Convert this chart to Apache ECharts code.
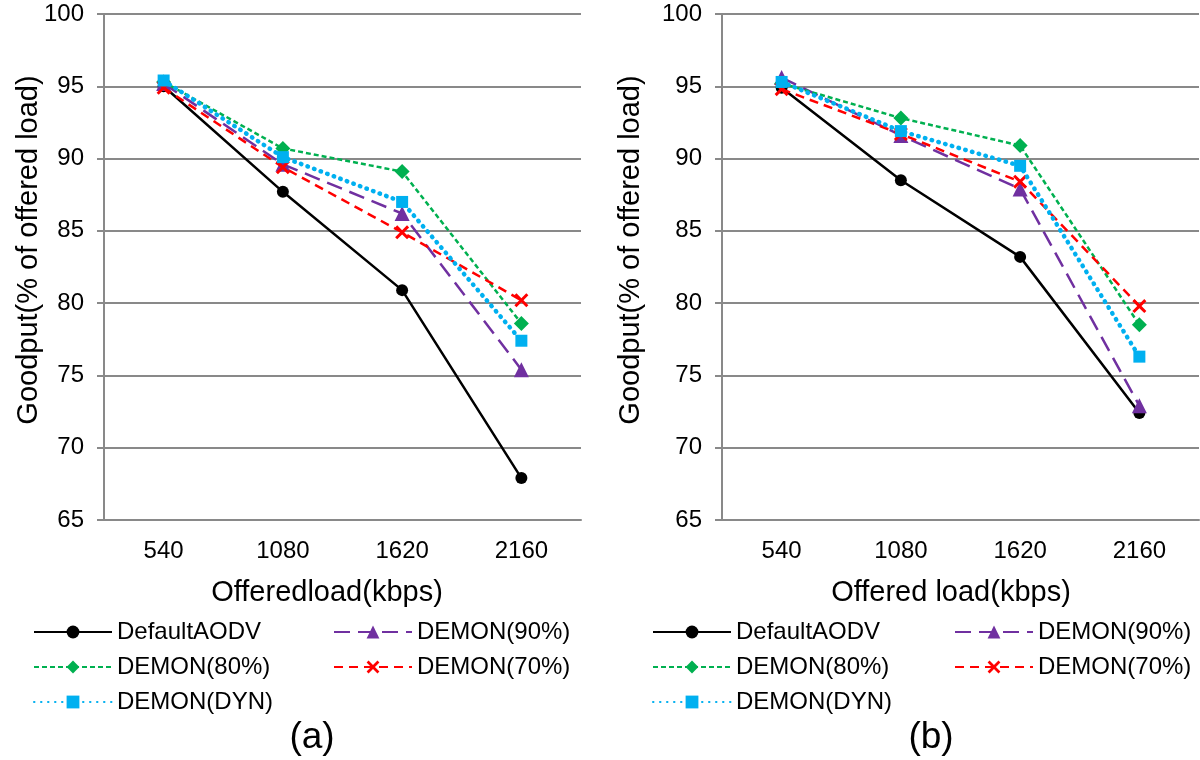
<!DOCTYPE html>
<html>
<head>
<meta charset="utf-8">
<script src="https://cdn.jsdelivr.net/npm/echarts@6/dist/echarts.min.js"></script>
<style>
html,body{margin:0;padding:0;background:#fff;}
#chart{width:1200px;height:760px;}
</style>
</head>
<body>
<div id="chart"></div>
<script>
// ---- data ----
const categories = ['540', '1080', '1620', '2160'];
const seriesNames = ['DefaultAODV', 'DEMON(90%)', 'DEMON(80%)', 'DEMON(70%)', 'DEMON(DYN)'];
// panel (a)
const aDefault = [95.0, 87.7, 80.9, 67.9];
const aDemon90 = [95.2, 89.6, 86.2, 75.4];
const aDemon80 = [95.3, 90.7, 89.1, 78.6];
const aDemon70 = [94.9, 89.4, 84.9, 80.2];
const aDemonDyn = [95.4, 90.1, 87.0, 77.4];
// panel (b)
const bDefault = [94.9, 88.5, 83.2, 72.4];
const bDemon90 = [95.6, 91.6, 87.9, 72.9];
const bDemon80 = [95.2, 92.8, 90.9, 78.5];
const bDemon70 = [94.8, 91.7, 88.4, 79.8];
const bDemonDyn = [95.3, 91.9, 89.5, 76.3];
const yMin = 65, yMax = 100, yStep = 5;
const xTitles = ['Offeredload(kbps)', 'Offered load(kbps)'];
const yTitle = 'Goodput(% of offered load)';
const panelLabels = ['(a)', '(b)'];

const panelData = [
  [aDefault, aDemon90, aDemon80, aDemon70, aDemonDyn],
  [bDefault, bDemon90, bDemon80, bDemon70, bDemonDyn]
];

// ---- styles ----
const FONT = '"Liberation Sans", Arial, Helvetica, sans-serif';
const GRAY = '#898989';
const xPath = 'path://M0,1.5L1.5,0L5,3.5L8.5,0L10,1.5L6.5,5L10,8.5L8.5,10L5,6.5L1.5,10L0,8.5L3.5,5Z';
const styles = {
  'DefaultAODV': {color: '#000000', type: 'solid', width: 2.5, symbol: 'circle', size: 12, cap: 'butt'},
  'DEMON(90%)': {color: '#7030A0', type: [16, 8], width: 2.5, symbol: 'triangle', size: 15, cap: 'butt'},
  'DEMON(80%)': {color: '#00B050', type: [5, 3], width: 2.5, symbol: 'diamond', size: 15, cap: 'butt'},
  'DEMON(70%)': {color: '#FF0000', type: [9, 6], width: 2.5, symbol: xPath, size: 14, cap: 'butt'},
  'DEMON(DYN)': {color: '#00B0F0', type: [0.5, 6.5], width: 4.5, symbol: 'rect', size: 12, cap: 'round'}
};

const grids = [
  {left: 104, top: 14, width: 477, height: 506},
  {left: 722, top: 14, width: 477, height: 506}
];

const xAxes = grids.map((g, i) => ({
  type: 'category', gridIndex: i, data: categories, boundaryGap: true,
  axisLine: {lineStyle: {color: GRAY, width: 2}},
  axisTick: {alignWithLabel: true, length: 6, lineStyle: {color: GRAY, width: 2}},
  axisLabel: {color: '#000', fontSize: 24, fontFamily: FONT, margin: 19},
  splitLine: {show: false}
}));
const yAxes = grids.map((g, i) => ({
  type: 'value', gridIndex: i, min: yMin, max: yMax, interval: yStep,
  axisLine: {show: true, lineStyle: {color: GRAY, width: 2}},
  axisTick: {show: true, length: 7, lineStyle: {color: GRAY, width: 2}},
  axisLabel: {color: '#000', fontSize: 24, fontFamily: FONT, margin: 20},
  splitLine: {show: true, lineStyle: {color: GRAY, width: 2}}
}));

const series = [];
panelData.forEach((arrs, p) => {
  seriesNames.forEach((name, k) => {
    const s = styles[name];
    series.push({
      name: name, type: 'line', xAxisIndex: p, yAxisIndex: p,
      data: arrs[k],
      symbol: s.symbol, symbolSize: s.size,
      lineStyle: {color: s.color, width: s.width, type: s.type, cap: s.cap},
      itemStyle: {color: s.color, borderWidth: 0},
      animation: false, z: 2 + k
    });
  });
});

function legendAt(left, names) {
  return {
    left: left, top: 620, orient: 'vertical', data: names,
    selectedMode: false, itemWidth: 78, itemHeight: 16, itemGap: 11, itemTextGap: 10,
    textStyle: {color: '#000', fontSize: 24, fontFamily: FONT, lineHeight: 24},
    padding: 0
  };
}
const col1 = ['DefaultAODV', 'DEMON(80%)', 'DEMON(DYN)'];
const col2 = ['DEMON(90%)', 'DEMON(70%)'];

function txt(x, y, text, size, rot) {
  return {
    type: 'text', x: x, y: y, rotation: rot || 0,
    style: {text: text, font: size + 'px ' + FONT, fill: '#000',
      textAlign: 'center', textVerticalAlign: 'middle', align: 'center', verticalAlign: 'middle'}
  };
}

const chart = echarts.init(document.getElementById('chart'), null, {renderer: 'canvas'});
chart.setOption({
  backgroundColor: '#ffffff',
  animation: false,
  grid: grids,
  xAxis: xAxes,
  yAxis: yAxes,
  legend: [legendAt(33, col1), legendAt(333, col2), legendAt(652, col1), legendAt(954, col2)],
  series: series,
  graphic: [
    txt(327, 593, xTitles[0], 29),
    txt(951, 593, xTitles[1], 29),
    txt(29, 250, yTitle, 29, Math.PI / 2),
    txt(631, 250, yTitle, 29, Math.PI / 2),
    txt(312, 738, panelLabels[0], 37),
    txt(931, 738, panelLabels[1], 37)
  ]
});
</script>
</body>
</html>
